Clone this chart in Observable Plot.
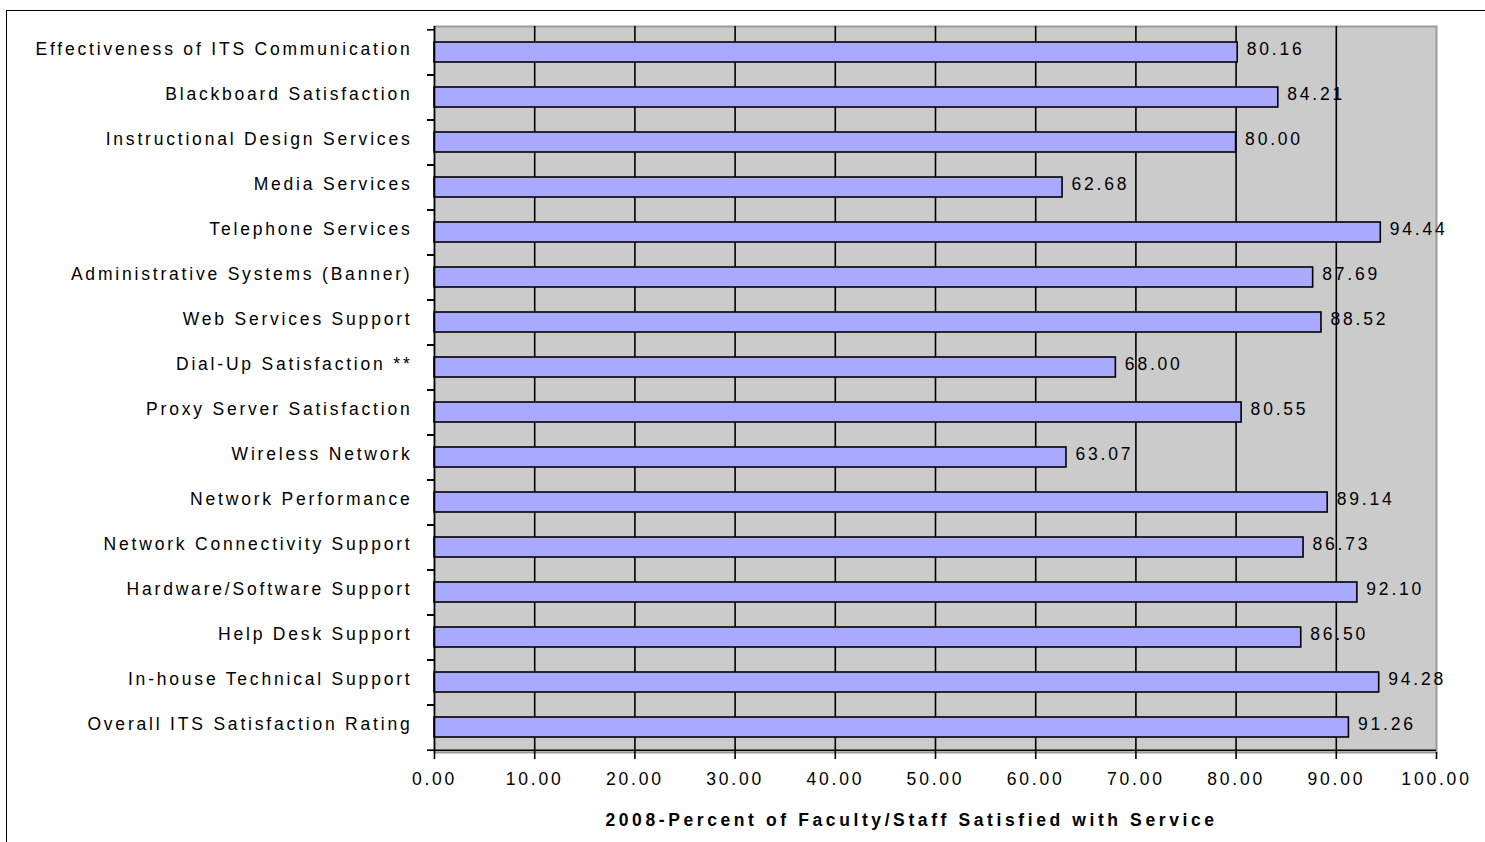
<!DOCTYPE html>
<html>
<head>
<meta charset="utf-8">
<script src="https://cdn.jsdelivr.net/npm/d3@7"></script>
<script src="https://cdn.jsdelivr.net/npm/@observablehq/plot@0.6"></script>
<style>
  html, body { margin: 0; padding: 0; background: #ffffff; overflow: hidden; width: 1485px; height: 842px; }
  #border { position: absolute; left: 6px; top: 10px; width: 2000px; height: 2000px; border: 1.5px solid #000; box-sizing: border-box; }
  #chart { position: absolute; left: 0; top: 0; }
  #chart svg text { letter-spacing: 2.8px; }
  #chart svg g[font-weight="bold"] text { letter-spacing: 3.6px; }
</style>
</head>
<body>
<div id="border"></div>
<div id="chart"></div>
<script>
const categories = [
  "Effectiveness of ITS Communication",
  "Blackboard Satisfaction",
  "Instructional Design Services",
  "Media Services",
  "Telephone Services",
  "Administrative Systems (Banner)",
  "Web Services Support",
  "Dial-Up Satisfaction **",
  "Proxy Server Satisfaction",
  "Wireless Network",
  "Network Performance",
  "Network Connectivity Support",
  "Hardware/Software Support",
  "Help Desk Support",
  "In-house Technical Support",
  "Overall ITS Satisfaction Rating"
];
const values = [80.16, 84.21, 80.00, 62.68, 94.44, 87.69, 88.52, 68.00, 80.55, 63.07, 89.14, 86.73, 92.10, 86.50, 94.28, 91.26];
const xTicks = [0, 10, 20, 30, 40, 50, 60, 70, 80, 90, 100];
const gridTicks = [10, 20, 30, 40, 50, 60, 70, 80, 90];
const xTitle = "2008-Percent of Faculty/Staff Satisfied with Service";

const data = categories.map((c, i) => ({category: c, value: values[i]}));

const W = 1485, H = 842, mt = 26, mb = 90, ml = 434, mr = 49;
const step = (H - mt - mb) / categories.length;

const chart = Plot.plot({
  width: W,
  height: H,
  marginTop: mt,
  marginBottom: mb,
  marginLeft: ml,
  marginRight: mr,
  style: {fontFamily: "'Liberation Sans', Arial, sans-serif", fontSize: "17.5px", color: "#000", background: "transparent", overflow: "visible"},
  x: {domain: [0, 100]},
  y: {domain: categories, paddingInner: 0.56, paddingOuter: 0.28, align: 0.5},
  marks: [
    Plot.frame({fill: "#cbcbcb", stroke: "#9a9a9a", strokeWidth: 2}),
    Plot.gridX(gridTicks, {stroke: "#000", strokeOpacity: 1, strokeWidth: 1.6}),
    Plot.barX(data, {x: "value", y: "category", fill: "#a9a9ff", stroke: "#000", strokeWidth: 1.6}),
    Plot.ruleX([0], {stroke: "#000", strokeWidth: 1.6}),
    Plot.ruleY([categories[categories.length - 1]], {y: d => d, dy: step / 2, stroke: "#000", strokeWidth: 1.6}),
    Plot.axisX({ticks: xTicks, tickFormat: d => d.toFixed(2), tickSize: 7, tickPadding: 13, label: null, fontSize: 17.5, stroke: "#000", strokeWidth: 1.6}),
    Plot.axisY({tickSize: 7, tickFormat: () => "", label: null, dy: -step / 2, stroke: "#000", strokeWidth: 1.6}),
    Plot.axisY({tickSize: 7, tickFormat: () => "", label: null, dy: step / 2, stroke: "#000", strokeWidth: 1.6}),
    Plot.axisY({tickSize: 0, tickPadding: 22, label: null, fontSize: 17.5, dy: -3}),
    Plot.text(data, {x: "value", y: "category", text: d => d.value.toFixed(2), textAnchor: "start", dx: 9, dy: -3, fontSize: 17.5, fill: "#000"}),
    Plot.text([xTitle], {text: d => d, frameAnchor: "bottom", dx: -24, dy: 73, fontSize: 17.5, fontWeight: "bold", fill: "#000"})
  ]
});
document.getElementById("chart").appendChild(chart);
</script>
</body>
</html>
